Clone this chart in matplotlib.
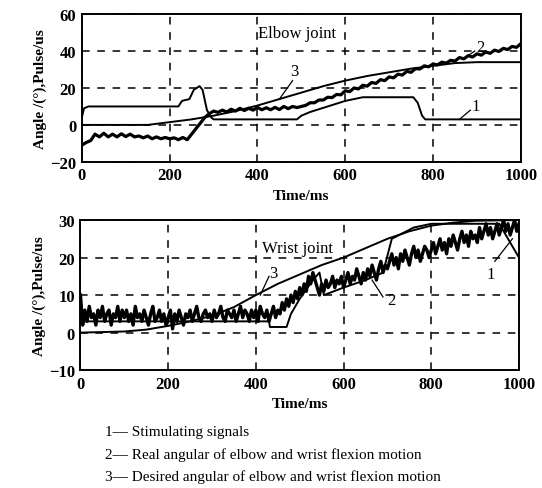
import numpy as np
import matplotlib.pyplot as plt

# ---- elbow joint ----
elbow_stim_t = [0, 5, 15, 220, 228, 245, 255, 268, 275, 285, 295, 300, 490, 500, 520, 560, 600, 640, 755, 765, 775, 782, 1000]
elbow_stim_v = [4, 9, 10, 10, 13, 14, 19, 21, 19, 8, 4, 3, 3, 5, 7, 10, 13, 15, 15, 12, 5, 3, 3]

elbow_des_t = [0, 150, 200, 250, 300, 350, 400, 450, 500, 550, 600, 650, 700, 750, 800, 850, 900, 1000]
elbow_des_v = [0, 0, 1.5, 3, 5, 7.5, 10.5, 14, 17.5, 21, 24, 26.5, 28.5, 30.5, 32, 33.5, 34, 34]

elbow_real_t = list(range(0, 1001, 10))
elbow_real_v = [-11, -9.5, -8.5, -5, -6.5, -4.5, -6.5, -5, -6.5, -4.8,
                -6.3, -5, -6.5, -6, -7, -6, -7.5, -6.5, -7.5, -6.8,
                -7.5, -7, -8, -6.8, -8, -5, -2, 1, 4, 6,
                7.5, 6.8, 8, 7, 8.5, 7.5, 9, 7.8, 9, 8,
                9.5, 8.2, 9.3, 8.2, 9.5, 8.3, 10, 8.8, 10, 9.4,
                10, 10.6, 12, 12, 13.5, 13.5, 15, 14.8, 16.5, 16.3,
                18.5, 18, 20, 19.5, 21.5, 21, 23, 22.5, 24.5, 24,
                26, 25.5, 27.5, 27, 29, 28.5, 30.5, 30.3, 32, 31.5,
                33, 32.5, 34, 33.5, 35, 34.6, 36.5, 35.8, 37.5, 36.8,
                38.5, 37.8, 39.5, 38.8, 40.5, 39.8, 41.5, 40.8, 42.5, 42,
                44]

# ---- wrist joint ----
wrist_stim_t = [0, 430, 432, 470, 480, 500, 530, 545, 555, 600, 650, 690, 710, 760, 800, 955, 1000]
wrist_stim_v = [3, 3, 1.5, 1.5, 5, 9, 14, 16, 10, 12, 14, 16, 25, 28, 29, 29, 20]

wrist_des_t = [0, 100, 150, 200, 250, 300, 350, 400, 450, 500, 550, 600, 650, 700, 750, 800, 850, 900, 1000]
wrist_des_v = [0, 0.3, 0.8, 1.8, 3, 4.5, 6.8, 10, 13, 15.5, 18, 20, 22.5, 25, 27, 28.5, 29.3, 29.8, 30]

wrist_real_t = list(range(0, 1001, 5))
wrist_real_v = [10, 2, 6, 3, 7, 4, 5, 2, 6, 4, 7, 3, 5, 6, 2, 5, 4, 7, 3, 6,
                4, 6, 3, 5, 2, 7, 4, 5, 3, 6, 4, 2, 5, 7, 3, 4, 6, 3, 5, 2,
                4, 6, 1, 5, 3, 6, 4, 2, 5, 4, 6, 3, 5, 7, 4, 3, 5, 6, 4, 5,
                3, 6, 4, 5, 7, 4, 3, 6, 5, 4, 6, 3, 5, 7, 4, 6, 5, 3, 6, 4,
                6, 3, 7, 5, 4, 6, 3, 5, 7, 4, 6, 5, 8, 6, 9, 7, 10, 8, 11, 9,
                12, 10, 13, 11, 15, 13, 16, 14, 12, 10, 13, 11, 14, 12, 13, 15, 12, 14, 13, 15,
                12, 14, 16, 13, 15, 14, 17, 15, 13, 16, 14, 17, 15, 18, 16, 14, 17, 19, 16, 18,
                17, 19, 21, 18, 20, 17, 21, 19, 22, 20, 18, 21, 23, 20, 22, 19, 21, 23, 22, 20,
                22, 24, 21, 23, 25, 22, 24, 21, 25, 23, 26, 24, 22, 25, 27, 24, 26, 23, 27, 25,
                26, 24, 28, 25, 27, 29, 26, 28, 25, 27, 29, 26, 28, 30, 27, 29, 26, 28, 30, 27,
                29]

legend_lines = ["1\u2014 Stimulating signals",
                "2\u2014 Real angular of elbow and wrist flexion motion",
                "3\u2014 Desired angular of elbow and wrist flexion motion"]

plt.rcParams['font.family'] = ['Liberation Serif', 'DejaVu Serif']

fig = plt.figure(figsize=(5.42, 4.89), dpi=100)
ax1 = fig.add_axes([0.151, 0.667, 0.810, 0.302])
ax2 = fig.add_axes([0.1485, 0.241, 0.809, 0.307])


def style(ax, ylim, yticks):
    ax.set_xlim(0, 1000)
    ax.set_ylim(*ylim)
    ax.set_xticks([0, 200, 400, 600, 800, 1000])
    ax.set_yticks(yticks)
    ax.grid(True, color='black', linestyle=(0, (5, 5)), linewidth=1.1)
    ax.tick_params(direction='in', length=0, labelsize=12, pad=4)
    for lab in ax.get_xticklabels() + ax.get_yticklabels():
        lab.set_fontweight('bold')
    for s in ax.spines.values():
        s.set_linewidth(1.4)
    ax.set_xlabel('Time/ms', fontsize=11, fontweight='bold', labelpad=4)
    ax.set_ylabel('Angle /(\u00b0),Pulse/us', fontsize=11, fontweight='bold', labelpad=2)


# top panel
ax1.plot(elbow_stim_t, elbow_stim_v, color='black', lw=1.4)
ax1.plot(elbow_des_t, elbow_des_v, color='black', lw=1.4)
ax1.plot(elbow_real_t, elbow_real_v, color='black', lw=2.3)
style(ax1, (-20, 60), [-20, 0, 20, 40, 60])
ax1.text(490, 50, 'Elbow joint', ha='center', va='center', fontsize=12)
ax1.plot([450, 480], [14, 24], color='black', lw=0.9)
ax1.text(485, 29, '3', ha='center', va='center', fontsize=12)
ax1.plot([870, 895], [36, 40], color='black', lw=0.9)
ax1.text(908, 42, '2', ha='center', va='center', fontsize=12)
ax1.plot([860, 885], [3, 8], color='black', lw=0.9)
ax1.text(897, 10, '1', ha='center', va='center', fontsize=12)

# bottom panel
ax2.plot(wrist_stim_t, wrist_stim_v, color='black', lw=1.4)
ax2.plot(wrist_des_t, wrist_des_v, color='black', lw=1.4)
ax2.plot(wrist_real_t, wrist_real_v, color='black', lw=2.4)
style(ax2, (-10, 30), [-10, 0, 10, 20, 30])
ax2.text(494, 22.5, 'Wrist joint', ha='center', va='center', fontsize=12)
ax2.plot([410, 430], [10, 15], color='black', lw=0.9)
ax2.text(440, 16, '3', ha='center', va='center', fontsize=12)
ax2.plot([665, 690], [14, 9.5], color='black', lw=0.9)
ax2.text(710, 8.7, '2', ha='center', va='center', fontsize=12)
ax2.plot([945, 985], [19, 25], color='black', lw=0.9)
ax2.text(936, 15.6, '1', ha='center', va='center', fontsize=12)

for i, line in enumerate(legend_lines):
    fig.text(0.193, 0.116 - i * 0.046, line, fontsize=11, ha='left', va='center')

fig.savefig('out.png', dpi=100)
